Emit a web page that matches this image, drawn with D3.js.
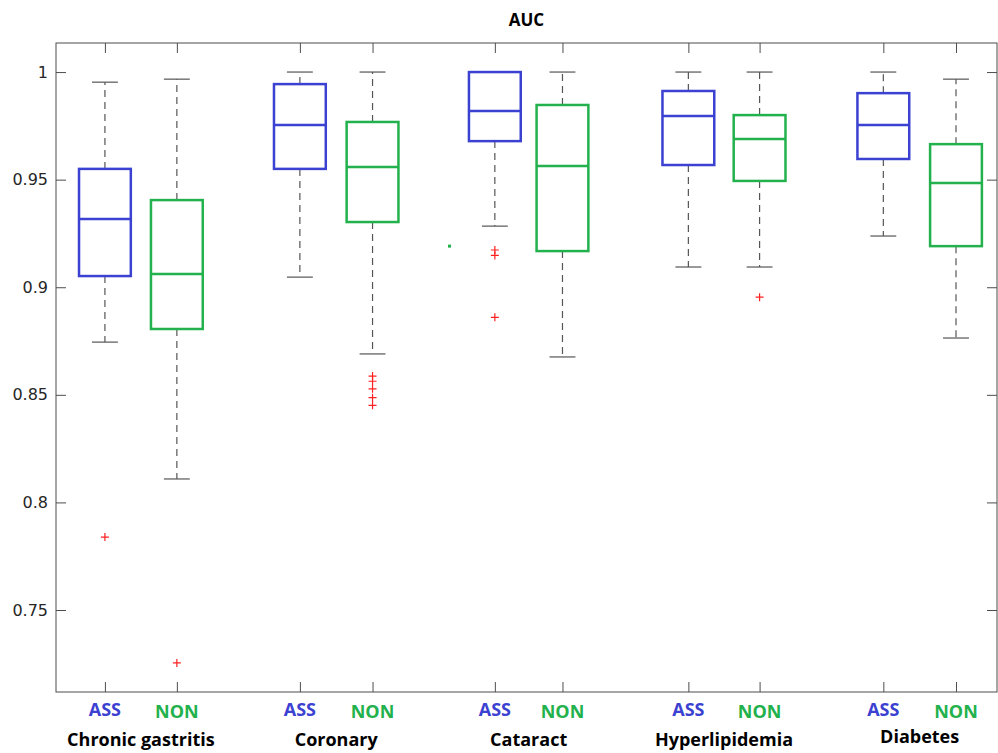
<!DOCTYPE html>
<html>
<head>
<meta charset="utf-8">
<script src="https://cdn.jsdelivr.net/npm/d3@7"></script>
<style>
  body { margin: 0; background: #fff; }
  svg { display: block; }
</style>
</head>
<body>
<svg id="chart" width="998" height="753"></svg>
<script>
// disease groups and the two model types per group
const groups = ['Chronic gastritis', 'Coronary', 'Cataract', 'Hyperlipidemia', 'Diabetes'];
const series = ['ASS', 'NON'];

// x position of each box (ASS, NON per group)
const assPos = [1, 3.71, 6.42, 9.11, 11.82];
const nonPos = [2, 4.72, 7.36, 10.1, 12.83];

// box statistics
const assLo  = [0.8745, 0.9047, 0.9284, 0.9094, 0.9238];
const assQ1  = [0.9052, 0.9550, 0.9679, 0.9568, 0.9596];
const assMed = [0.9317, 0.9754, 0.9819, 0.9796, 0.9754];
const assQ3  = [0.9550, 0.9944, 1.0000, 0.9912, 0.9902];
const assHi  = [0.9953, 1.0000, 1.0000, 1.0000, 1.0000];
const assOut = [[0.7839], [], [0.9173, 0.9148, 0.8860], [], []];

const nonLo  = [0.8109, 0.8690, 0.8676, 0.9094, 0.8764];
const nonQ1  = [0.8806, 0.9303, 0.9168, 0.9494, 0.9191];
const nonMed = [0.9061, 0.9559, 0.9563, 0.9689, 0.9484];
const nonQ3  = [0.9405, 0.9768, 0.9847, 0.9800, 0.9665];
const nonHi  = [0.9967, 1.0000, 1.0000, 1.0000, 0.9967];
const nonOut = [[0.7254], [0.8587, 0.8563, 0.8528, 0.8487, 0.8451], [], [0.8954], []];

// stray green point between Coronary and Cataract
const strayPoint = [{ x: 5.79, y: 0.9191 }];

const yTicks = [0.75, 0.8, 0.85, 0.9, 0.95, 1];

const colors = { ASS: '#3b41d1', NON: '#22b14c' };

const margin = { left: 56, right: 1, top: 43, bottom: 61 };
const width = 998, height = 753;

const svg = d3.select('svg#chart');

const x = d3.scaleLinear()
  .domain([0.32, 13.4])
  .range([margin.left, width - margin.right]);

const y = d3.scaleLinear()
  .domain([0.7119, 1.0135])
  .range([height - margin.bottom, margin.top]);

const boxes = [];
groups.forEach((g, i) => {
  boxes.push({ s: 'ASS', pos: assPos[i], lo: assLo[i], q1: assQ1[i], med: assMed[i], q3: assQ3[i], hi: assHi[i], out: assOut[i] });
  boxes.push({ s: 'NON', pos: nonPos[i], lo: nonLo[i], q1: nonQ1[i], med: nonMed[i], q3: nonQ3[i], hi: nonHi[i], out: nonOut[i] });
});

const boxW = x(0.72) - x(0);
const capW = boxW / 2;

// plot frame
const x0 = x.range()[0], x1 = x.range()[1];
const yTop = y.range()[1], yBot = y.range()[0];
svg.append('rect')
  .attr('x', x0).attr('y', yTop)
  .attr('width', x1 - x0).attr('height', yBot - yTop)
  .attr('fill', 'none').attr('stroke', '#4d4d4d').attr('stroke-width', 1);

// y axis (ticks inward), right side mirror
svg.append('g')
  .attr('transform', 'translate(' + x0 + ',0)')
  .call(d3.axisRight(y).tickValues(yTicks).tickSize(10).tickFormat(''))
  .call(g => g.select('.domain').remove())
  .call(g => g.selectAll('line').attr('stroke', '#4d4d4d'));
svg.append('g')
  .attr('transform', 'translate(' + x1 + ',0)')
  .call(d3.axisLeft(y).tickValues(yTicks).tickSize(10).tickFormat(''))
  .call(g => g.select('.domain').remove())
  .call(g => g.selectAll('line').attr('stroke', '#4d4d4d'));

svg.append('g').selectAll('text')
  .data(yTicks).enter().append('text')
  .attr('x', x0 - 8)
  .attr('y', d => y(d))
  .attr('dy', '0.35em')
  .attr('text-anchor', 'end')
  .attr('font-family', 'DejaVu Sans')
  .attr('font-size', 16)
  .attr('fill', '#262626')
  .text(d => d);

// x ticks at box positions, top and bottom, inward
const allPos = assPos.concat(nonPos);
svg.append('g')
  .attr('transform', 'translate(0,' + yBot + ')')
  .call(d3.axisTop(x).tickValues(allPos).tickSize(10).tickFormat(''))
  .call(g => g.select('.domain').remove())
  .call(g => g.selectAll('line').attr('stroke', '#4d4d4d'));
svg.append('g')
  .attr('transform', 'translate(0,' + yTop + ')')
  .call(d3.axisBottom(x).tickValues(allPos).tickSize(10).tickFormat(''))
  .call(g => g.select('.domain').remove())
  .call(g => g.selectAll('line').attr('stroke', '#4d4d4d'));

// whiskers
const wg = svg.append('g').attr('stroke', '#555').attr('stroke-width', 1.2);
wg.selectAll('line.up').data(boxes).enter().append('line')
  .attr('x1', d => x(d.pos)).attr('x2', d => x(d.pos))
  .attr('y1', d => y(d.q3)).attr('y2', d => y(d.hi))
  .attr('stroke-dasharray', '7,5');
wg.selectAll('line.down').data(boxes).enter().append('line')
  .attr('x1', d => x(d.pos)).attr('x2', d => x(d.pos))
  .attr('y1', d => y(d.q1)).attr('y2', d => y(d.lo))
  .attr('stroke-dasharray', '7,5');
wg.selectAll('line.capHi').data(boxes).enter().append('line')
  .attr('x1', d => x(d.pos) - capW / 2).attr('x2', d => x(d.pos) + capW / 2)
  .attr('y1', d => y(d.hi)).attr('y2', d => y(d.hi));
wg.selectAll('line.capLo').data(boxes).enter().append('line')
  .attr('x1', d => x(d.pos) - capW / 2).attr('x2', d => x(d.pos) + capW / 2)
  .attr('y1', d => y(d.lo)).attr('y2', d => y(d.lo));

// boxes
svg.append('g').selectAll('rect')
  .data(boxes).enter().append('rect')
  .attr('x', d => x(d.pos) - boxW / 2)
  .attr('y', d => y(d.q3))
  .attr('width', boxW)
  .attr('height', d => y(d.q1) - y(d.q3))
  .attr('fill', 'none')
  .attr('stroke', d => colors[d.s])
  .attr('stroke-width', 2.5);

svg.append('g').selectAll('line')
  .data(boxes).enter().append('line')
  .attr('x1', d => x(d.pos) - boxW / 2).attr('x2', d => x(d.pos) + boxW / 2)
  .attr('y1', d => y(d.med)).attr('y2', d => y(d.med))
  .attr('stroke', d => colors[d.s])
  .attr('stroke-width', 2.5);

// outliers
const outliers = [];
boxes.forEach(b => b.out.forEach(v => outliers.push({ pos: b.pos, v: v })));
svg.append('g').selectAll('path')
  .data(outliers).enter().append('path')
  .attr('d', d => {
    const cx = x(d.pos), cy = y(d.v);
    return 'M' + (cx - 4) + ',' + cy + 'H' + (cx + 4) + 'M' + cx + ',' + (cy - 4) + 'V' + (cy + 4);
  })
  .attr('stroke', '#ff2020')
  .attr('stroke-width', 1.2)
  .attr('fill', 'none');

svg.append('g').selectAll('rect')
  .data(strayPoint).enter().append('rect')
  .attr('x', d => x(d.x) - 1.5)
  .attr('y', d => y(d.y) - 1.5)
  .attr('width', 3).attr('height', 3)
  .attr('fill', colors.NON);

// series labels under the axis
svg.append('g').selectAll('text')
  .data(boxes).enter().append('text')
  .attr('x', d => x(d.pos))
  .attr('y', d => d.s === 'ASS' ? 716 : 718)
  .attr('text-anchor', 'middle')
  .attr('font-family', 'Open Sans')
  .attr('font-weight', 700)
  .attr('font-size', 18)
  .attr('fill', d => colors[d.s])
  .text(d => d.s);

// group labels
svg.append('g').selectAll('text')
  .data(groups).enter().append('text')
  .attr('x', (d, i) => (x(assPos[i]) + x(nonPos[i])) / 2)
  .attr('y', (d, i) => d === 'Diabetes' ? 743 : 746)
  .attr('text-anchor', 'middle')
  .attr('font-family', 'Open Sans')
  .attr('font-weight', 700)
  .attr('font-size', 18)
  .attr('fill', '#000')
  .text(d => d);

svg.append('text')
  .attr('x', (x0 + x1) / 2)
  .attr('y', 26)
  .attr('text-anchor', 'middle')
  .attr('font-family', 'Open Sans')
  .attr('font-weight', 700)
  .attr('font-size', 17)
  .attr('fill', '#000')
  .text('AUC');
</script>
</body>
</html>
